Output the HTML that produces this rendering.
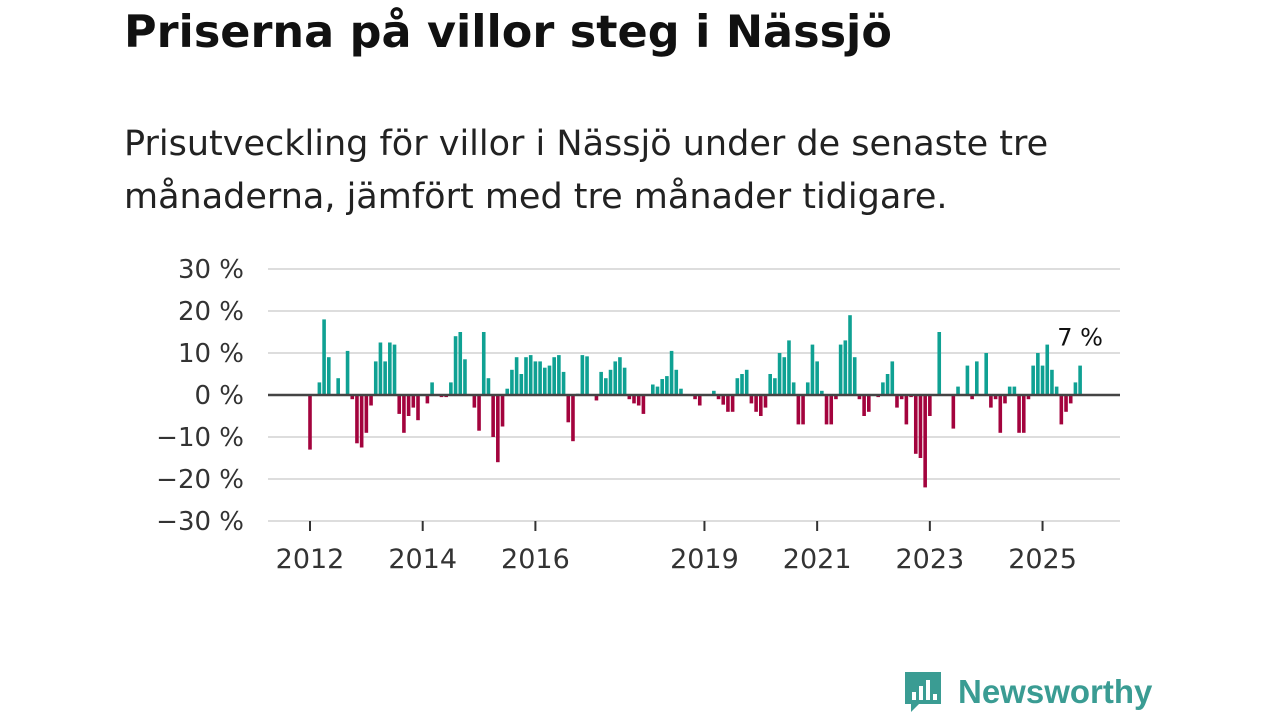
<!DOCTYPE html>
<html><head><meta charset="utf-8">
<style>
body{margin:0;width:1280px;height:720px;background:#fff;font-family:"Liberation Sans","DejaVu Sans",sans-serif;overflow:hidden;position:relative}
h1{position:absolute;left:124px;top:7px;margin:0;font-size:44.5px;font-weight:bold;color:#111;font-family:"DejaVu Sans",sans-serif;white-space:nowrap}
.sub{position:absolute;left:124px;top:118px;margin:0;line-height:53px;color:#222;font-family:"DejaVu Sans",sans-serif;font-size:35px;white-space:nowrap}
svg{position:absolute;left:0;top:0}
</style></head><body>
<h1>Priserna på villor steg i Nässjö</h1>
<p class="sub">Prisutveckling för villor i Nässjö under de senaste tre<br>månaderna, jämfört med tre månader tidigare.</p>
<svg id="chart" width="1280" height="720"></svg>
<script>
const startYear = 2012;
const values = [-13,0,3,18,9,0,4,0,10.5,-1,-11.5,-12.5,-9,-2.5,8,12.5,8,12.5,12,-4.5,-9,-5,-3,-6,0,-2,3,0,-0.5,-0.5,3,14,15,8.5,0,-3,-8.5,15,4,-10,-16,-7.5,1.5,6,9,5,9,9.5,8,8,6.5,7,9,9.5,5.5,-6.5,-11,0.3,9.5,9.2,0,-1.3,5.5,4,6,8,9,6.5,-1,-2,-2.5,-4.5,0,2.5,2,3.8,4.5,10.5,6,1.5,0,0,-1,-2.5,0,0,1,-1,-2.3,-4,-4,4,5,6,-2,-4,-5,-3,5,4,10,9,13,3,-7,-7,3,12,8,1,-7,-7,-1,12,13,19,9,-1,-5,-4,0,-0.5,3,5,8,-3,-1,-7,-0.5,-14,-15,-22,-5,0,15,0,0,-8,2,0,7,-1,8,0,10,-3,-1,-9,-2,2,2,-9,-9,-1,7,10,7,12,6,2,-7,-4,-2,3,7];
const yTicks = [30,20,10,0,-10,-20,-30];
const yTickLabels = ["30 %","20 %","10 %","0 %","−10 %","−20 %","−30 %"];
const xTicks = [2012,2014,2016,2019,2021,2023,2025];
const lastLabel = "7 %";

const svg = document.getElementById('chart');
const NS = 'http://www.w3.org/2000/svg';
const y = v => 395 - v * 4.2;
const x = yr => 310 + (yr - 2012) * 56.35;
const xm = i => x(startYear + i / 12);
function mk(tag, attrs){const e=document.createElementNS(NS,tag);for(const k in attrs)e.setAttribute(k,attrs[k]);svg.appendChild(e);return e;}
yTicks.forEach((t,i)=>{
  if(t!==0){const g=mk('line',{x1:268,x2:1120,y1:y(t),y2:y(t),stroke:'#ddd','stroke-width':2});
  
  }
  const tx=mk('text',{x:244,y:y(t)+9,'text-anchor':'end','font-size':26,fill:'#333','font-family':'DejaVu Sans, sans-serif'});
  tx.textContent=yTickLabels[i];
  
  
});
xTicks.forEach(t=>{
  const l=mk('line',{x1:x(t),x2:x(t),y1:521,y2:531,stroke:'#333','stroke-width':2});
  
  
  const tx=mk('text',{x:x(t),y:568,'text-anchor':'middle','font-size':27,fill:'#333','font-family':'DejaVu Sans, sans-serif'});
  tx.textContent=t;
  
  
});
values.forEach((v,i)=>{
  const top=Math.min(y(v),y(0)), h=Math.abs(y(v)-y(0));
  const r=mk('rect',{x:xm(i)-1.8,y:top,width:3.6,height:h,fill:v>=0?'#0fa193':'#a3033d'});
  
  
});
const zl=mk('line',{x1:268,x2:1120,y1:395,y2:395,stroke:'#444','stroke-width':2.5});


const li=values.length-1;
const lab=mk('text',{x:xm(li),y:y(values[li])-20,'text-anchor':'middle','font-size':24,fill:'#111',stroke:'#fff','stroke-width':5,'paint-order':'stroke','font-family':'DejaVu Sans, sans-serif'});
lab.textContent=lastLabel;


</script>
<svg width="1280" height="720" style="pointer-events:none">
  <path d="M905 672 h36 v32 h-22 l-8 8 v-8 h-6 z" fill="#3a9c93"/>
  <rect x="912" y="692" width="4" height="8" fill="#fff"/>
  <rect x="919" y="686" width="4" height="14" fill="#fff"/>
  <rect x="926" y="680" width="4" height="20" fill="#fff"/>
  <rect x="933" y="694" width="4" height="6" fill="#fff"/>
  <text x="958" y="703" font-size="33" font-weight="bold" fill="#3a9c93" font-family="Liberation Sans, sans-serif">Newsworthy</text>
</svg>
</body></html>
